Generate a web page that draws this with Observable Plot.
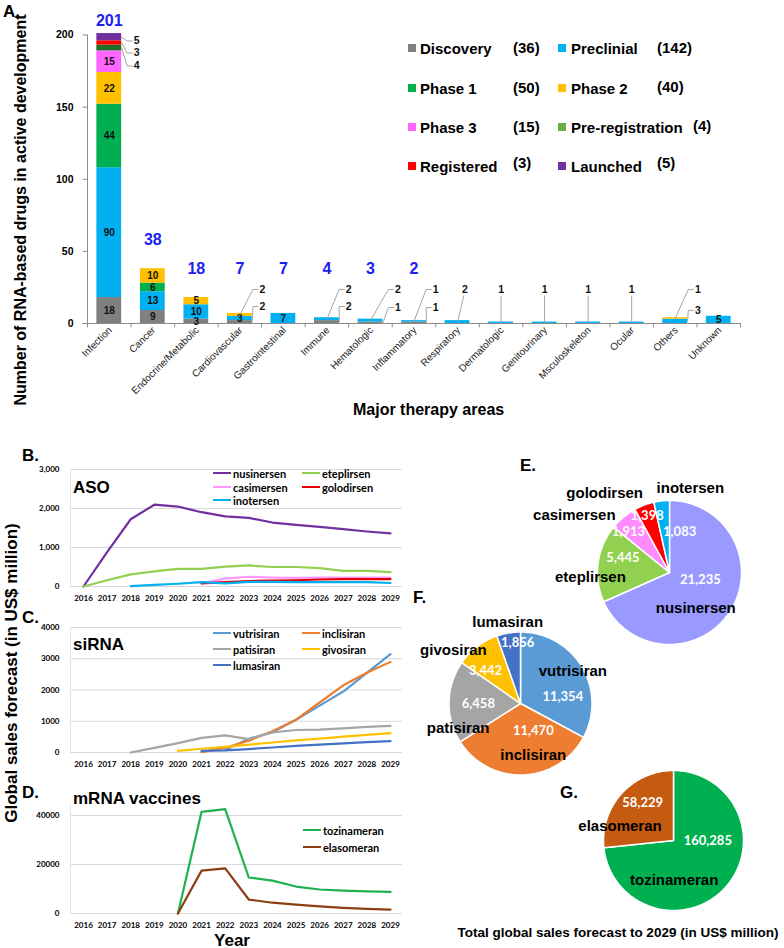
<!DOCTYPE html>
<html><head><meta charset="utf-8">
<script src="https://cdn.jsdelivr.net/npm/d3@7"></script>
<script src="https://cdn.jsdelivr.net/npm/@observablehq/plot@0.6"></script>
<style>
body{margin:0;background:#fff;}
#root{position:relative;width:784px;height:948px;overflow:hidden;font-family:"Liberation Sans",Arial,sans-serif;background:#fff;}
.abs{position:absolute;}
.lbl{position:absolute;font-weight:bold;white-space:nowrap;line-height:1;color:#000;}
g[aria-label="pie-values"] text{filter:drop-shadow(1px 1px 1px rgba(0,0,0,0.55));}
</style></head><body><div id="root"></div>
<script>
// ---------------- DATA ----------------
const categories = ["Infection","Cancer","Endocrine/Metabolic","Cardiovascular","Gastrointestinal","Immune","Hematologic","Inflammatory","Respiratory","Dermatologic","Genitourinary","Msculoskeleton","Ocular","Others","Unknown"];
const stages = ["Discovery","Preclinial","Phase 1","Phase 2","Phase 3","Pre-registration","Registered","Launched"];
const stageTotals = [36,142,50,40,15,4,3,5];
const discovery       = [18, 9, 3,2,0,2,1,1,0,0,0,0,0,0,0];
const preclinical     = [90,13,10,3,7,2,2,1,2,1,1,1,1,3,5];
const phase1          = [44, 6, 0,0,0,0,0,0,0,0,0,0,0,0,0];
const phase2          = [22,10, 5,2,0,0,0,0,0,0,0,0,0,1,0];
const phase3          = [15, 0, 0,0,0,0,0,0,0,0,0,0,0,0,0];
const preRegistration = [ 4, 0, 0,0,0,0,0,0,0,0,0,0,0,0,0];
const registered      = [ 3, 0, 0,0,0,0,0,0,0,0,0,0,0,0,0];
const launched        = [ 5, 0, 0,0,0,0,0,0,0,0,0,0,0,0,0];
const totalsShown     = [201,38,18,7,7,4,3,2,null,null,null,null,null,null,null];
const yTicksA = [0,50,100,150,200];

const years = [2016,2017,2018,2019,2020,2021,2022,2023,2024,2025,2026,2027,2028,2029];
const asoNames = ["nusinersen","eteplirsen","casimersen","golodirsen","inotersen"];
const nusinersen = [0,884,1724,2097,2050,1905,1800,1760,1640,1580,1530,1470,1410,1360];
const eteplirsen = [0,160,310,390,450,450,510,540,500,500,470,400,400,370];
const casimersen = [null,null,null,null,null,80,200,250,230,220,230,230,230,230];
const golodirsen = [null,null,null,null,null,80,110,140,150,160,180,190,190,190];
const inotersen  = [null,null,10,40,70,110,80,120,120,110,110,110,110,90];
const yTicksB = [0,1000,2000,3000];

const sirnaNames = ["vutrisiran","inclisiran","patisiran","givosiran","lumasiran"];
const vutrisiran = [null,null,null,null,null,null,80,440,650,1050,1500,1950,2550,3150];
const inclisiran = [null,null,null,null,null,10,150,380,680,1050,1600,2150,2550,2900];
const patisiran  = [null,null,0,150,300,470,550,430,640,720,730,770,820,850];
const givosiran  = [null,null,null,null,50,120,180,250,320,385,445,505,565,620];
const lumasiran  = [null,null,null,null,null,50,70,110,160,210,255,295,335,365];
const yTicksC = [0,1000,2000,3000,4000];

const mrnaNames = ["tozinameran","elasomeran"];
const tozinameran = [null,null,null,null,0,41500,42600,14700,13400,11000,9800,9300,9000,8800];
const elasomeran  = [null,null,null,null,0,17500,18400,5700,4400,3600,2900,2300,1900,1600];
const yTicksD = [0,20000,40000];

const asoTotals = [21235,5445,1913,1398,1083];
const sirnaTotals = [11354,11470,6458,3442,1856];
const mrnaTotals = [160285,58229];

// ---------------- STYLE / LAYOUT ----------------
const barColors = ["#808080","#00b0f0","#00b050","#ffc000","#ff66ff","#1e6e28","#ff0000","#7030a0"];
const legendColors = ["#808080","#00b0f0","#00b050","#ffc000","#ff66ff","#6aae45","#ff0000","#7030a0"];
const legendRaise = [0,0,0,1,0,1,3,3];
const asoLineColors = ["#7030a0","#92d050","#ff99ff","#e00000","#00b0f0"];
const asoPieColors = ["#9999ff","#92d050","#ff8cff","#ff0000","#00b0f0"];
const sirnaColors = ["#5b9bd5","#ed7d31","#a5a5a5","#ffc000","#4472c4"];
const mrnaLineColors = ["#1fb050","#8b3e12"];
const mrnaPieColors = ["#00b050","#c55a11"];

const leaderLayout = [
 {cat:"Infection", stage:"Launched", lx:1.13, ly:195.8, from:"right"},
 {cat:"Infection", stage:"Registered", lx:1.13, ly:187.5, from:"right"},
 {cat:"Infection", stage:"Pre-registration", lx:1.13, ly:178.5, from:"right"},
 {cat:"Cardiovascular", stage:"Phase 2", lx:1.02, ly:23.6, from:"center"},
 {cat:"Cardiovascular", stage:"Discovery", lx:1.02, ly:11.8, from:"right"},
 {cat:"Immune", stage:"Preclinial", lx:1.0, ly:23.6, from:"center"},
 {cat:"Immune", stage:"Discovery", lx:1.0, ly:11.8, from:"right"},
 {cat:"Hematologic", stage:"Preclinial", lx:1.13, ly:23.6, from:"center"},
 {cat:"Hematologic", stage:"Discovery", lx:1.13, ly:11.1, from:"right"},
 {cat:"Inflammatory", stage:"Preclinial", lx:1.0, ly:23.6, from:"center"},
 {cat:"Inflammatory", stage:"Discovery", lx:1.0, ly:11.1, from:"right"},
 {cat:"Respiratory", stage:"Preclinial", lx:0.67, ly:23.6, from:"drop"},
 {cat:"Dermatologic", stage:"Preclinial", lx:0.5, ly:23.6, from:"drop"},
 {cat:"Genitourinary", stage:"Preclinial", lx:0.5, ly:23.6, from:"drop"},
 {cat:"Msculoskeleton", stage:"Preclinial", lx:0.5, ly:23.6, from:"drop"},
 {cat:"Ocular", stage:"Preclinial", lx:0.5, ly:23.6, from:"drop"},
 {cat:"Others", stage:"Phase 2", lx:1.02, ly:23.6, from:"center"},
 {cat:"Others", stage:"Preclinial", lx:1.02, ly:9.0, from:"right"}
];
const pieLayoutE = [{dv:-20,rv:.44,dn:21,rn:.62},{dv:10.3,rv:.68,dn:-10.7,rn:1.1},{dv:-5.7,rv:.8,dn:-19.3,rn:1.54},{dv:-0.8,rv:.85,dn:-18.7,rn:1.42},{dv:20.3,rv:.58,dn:20.1,rn:1.21}];
const pieLayoutF = [{dv:21.3,rv:.6,dn:-0.8,rn:.86},{dv:-23.2,rv:.42,dn:-11.9,rn:.74},{dv:-2.2,rv:.59,dn:-23.1,rn:.94},{dv:-9.6,rv:.67,dn:-14.2,rn:1.2},{dv:7,rv:.85,dn:0.7,rn:1.15}];
const pieLayoutG = [{dv:-40.8,rv:.49,dn:47,rn:.57},{dv:8.3,rv:.69,dn:-27.3,rn:.79}];

// ---------------- HELPERS ----------------
const root = document.getElementById("root");
function place(node, x, y, w) {
  const d = document.createElement("div"); d.className = "abs";
  d.style.left = x + "px"; d.style.top = y + "px"; d.style.width = w + "px";
  d.appendChild(node); root.appendChild(d); return d;
}
function label(text, x, y, o = {}) {
  const d = document.createElement("div"); d.className = "lbl"; d.textContent = text;
  d.style.left = x + "px"; d.style.top = y + "px"; d.style.fontSize = (o.size || 15) + "px";
  if (o.family) d.style.fontFamily = o.family;
  if (o.color) d.style.color = o.color;
  const tx = o.anchor === "middle" ? "-50%" : o.anchor === "end" ? "-100%" : "0";
  d.style.transform = `translate(${tx},-50%)` + (o.rotate ? ` rotate(${o.rotate}deg)` : "");
  root.appendChild(d); return d;
}
function box(x, y, w, h, color) {
  const d = document.createElement("div"); d.className = "abs";
  Object.assign(d.style, {left: x + "px", top: y + "px", width: w + "px", height: h + "px", background: color});
  root.appendChild(d);
}

// ---------------- PANEL A ----------------
const stageCounts = [discovery, preclinical, phase1, phase2, phase3, preRegistration, registered, launched];
const segments = [];
categories.forEach((c, i) => {
  let acc = 0;
  stages.forEach((s, k) => {
    const v = stageCounts[k][i];
    if (v > 0) { segments.push({cat: c, i, stage: s, value: v, y1: acc, y2: acc + v}); acc += v; }
  });
});
const hw = 0.285;
const leaderKeys = new Set(leaderLayout.map(d => d.cat + "|" + d.stage));
const innerSegs = segments.filter(s => !leaderKeys.has(s.cat + "|" + s.stage));
const leaderPts = [], leaderTxt = [];
leaderLayout.forEach((d, n) => {
  const seg = segments.find(s => s.cat === d.cat && s.stage === d.stage);
  const i = seg.i, mid = (seg.y1 + seg.y2) / 2, X = i + d.lx;
  if (d.from === "drop") {
    leaderPts.push({id: n, x: i + 0.5, y: mid}, {id: n, x: i + 0.5 + (d.lx - 0.5) * 0.85, y: d.ly - 4.5});
  } else {
    leaderPts.push({id: n, x: i + 0.5 + (d.from === "right" ? hw : 0), y: mid}, {id: n, x: X - 0.22, y: d.ly}, {id: n, x: X - 0.1, y: d.ly});
  }
  leaderTxt.push({x: X, y: d.ly, text: seg.value});
});
const totalsData = categories.map((c, i) => ({i, t: totalsShown[i]})).filter(d => d.t != null)
  .map(d => ({x: d.i + 0.5, y: Math.min(Math.max(d.t + 20, 38), 210), text: String(d.t)}));
const boundaries = categories.map((c, i) => i).concat([categories.length]);

const chartA = Plot.plot({
  width: 784, height: 420, marginLeft: 87, marginRight: 44, marginTop: 34.5, marginBottom: 97,
  x: {domain: [0, categories.length], axis: null},
  y: {domain: [0, 200], ticks: yTicksA, tickSize: 0, tickPadding: 14, label: null},
  color: {domain: stages, range: barColors},
  style: {background: "transparent", overflow: "visible", fontFamily: "Liberation Sans", fontSize: "10.5px", fontWeight: "bold"},
  marks: [
    Plot.rectY(segments, {x1: d => d.i + 0.5 - hw, x2: d => d.i + 0.5 + hw, y1: "y1", y2: "y2", fill: "stage"}),
    Plot.ruleX([0], {y1: 0, y2: 200, stroke: "#8c8c8c"}),
    Plot.ruleY(yTicksA, {x1: -0.1, x2: 0, stroke: "#8c8c8c"}),
    Plot.ruleY([0], {x1: 0, x2: categories.length, stroke: "#8c8c8c"}),
    Plot.ruleX(boundaries, {y1: 0, y2: -3, stroke: "#8c8c8c"}),
    Plot.text(innerSegs, {x: d => d.i + 0.5, y: d => (d.y1 + d.y2) / 2, text: "value", fontSize: 10, fontWeight: "bold", fill: "#111"}),
    Plot.line(leaderPts, {x: "x", y: "y", z: "id", stroke: "#9a9a9a", strokeWidth: 0.9}),
    Plot.text(leaderTxt, {x: "x", y: "y", text: "text", fontSize: 10.5, fontWeight: "bold", fill: "#111"}),
    Plot.text(totalsData, {x: "x", y: "y", text: "text", fontSize: 16, fontWeight: "bold", fill: "#2020ee"}),
    Plot.text(categories, {x: (d, i) => i + 0.5, y: 0, text: d => d, rotate: -45, textAnchor: "end", dx: 1, dy: 5, fontSize: 10, fontWeight: "normal", fill: "#222"})
  ]
});
place(chartA, 0, 0, 784);

label("A.", 3, 11, {size: 17});
label("Number of RNA-based drugs in active development", 21, 210, {size: 16, anchor: "middle", rotate: -90});
label("Major therapy areas", 353, 410, {size: 16});

// legend A
const colSw = [408, 558], colTx = [420, 571], colCt = [513, 657], rowY = [48, 88, 127, 166];
stages.forEach((s, k) => {
  const c = k % 2, r = Math.floor(k / 2);
  box(colSw[c], rowY[r] - 4, 8, 8, legendColors[k]);
  const t = label(s, colTx[c], rowY[r], {size: 15});
  const end = colTx[c] + t.offsetWidth;
  label(`(${stageTotals[k]})`, Math.max(colCt[c], end + 10), rowY[r] - 1 - legendRaise[k], {size: 15});
});

// ---------------- LINE PANELS ----------------
function linePlot({names, series, colors, yTicks, yDomain, yFormat, top, height, mt, mb}) {
  const tidy = [];
  names.forEach((n, k) => years.forEach((yr, j) => { const v = series[k][j]; if (v != null) tidy.push({name: n, year: yr, value: v}); }));
  const chart = Plot.plot({
    width: 410, height, marginLeft: 70, marginRight: 8.2, marginTop: mt, marginBottom: mb,
    x: {domain: [2015.45, 2029.5], ticks: years, tickFormat: "d", tickSize: 0, tickPadding: 9, label: null},
    y: {domain: yDomain, ticks: yTicks, tickFormat: yFormat, tickSize: 0, tickPadding: 11, label: null},
    color: {domain: names, range: colors},
    style: {background: "transparent", overflow: "visible", fontFamily: "Lato", fontSize: "8px", fontWeight: "bold"},
    marks: [
      Plot.ruleY(yTicks, {stroke: "#d9d9d9"}),
      Plot.ruleX([2015.45], {stroke: "#e6e6e6"}),
      Plot.line(tidy, {x: "year", y: "value", z: "name", stroke: "name", strokeWidth: 2.2})
    ]
  });
  place(chart, 0, top, 410);
}
function lineLegend(names, colors, positions) {
  names.forEach((n, k) => {
    const [x, y] = positions[k];
    box(x, y - 1.25, 18, 2.5, colors[k]);
    label(n, x + 20, y, {size: 11, family: "Lato"});
  });
}

linePlot({names: asoNames, series: [nusinersen, eteplirsen, casimersen, golodirsen, inotersen], colors: asoLineColors,
  yTicks: yTicksB, yDomain: [0, 3000], yFormat: d3.format(","), top: 460, height: 150, mt: 9, mb: 24});
linePlot({names: sirnaNames, series: [vutrisiran, inclisiran, patisiran, givosiran, lumasiran], colors: sirnaColors,
  yTicks: yTicksC, yDomain: [0, 4000], yFormat: d => String(d), top: 615, height: 160, mt: 12, mb: 23});
linePlot({names: mrnaNames, series: [tozinameran, elasomeran], colors: mrnaLineColors,
  yTicks: yTicksD, yDomain: [0, 45000], yFormat: d => String(d), top: 795, height: 140, mt: 7.75, mb: 22});

label("B.", 22, 455, {size: 17});
label("ASO", 73, 487, {size: 17});
lineLegend(asoNames, asoLineColors, [[213, 473], [302, 473], [213, 487], [302, 487], [213, 500]]);
label("C.", 22, 617, {size: 17});
label("siRNA", 73, 644, {size: 17});
lineLegend(sirnaNames, sirnaColors, [[213, 633], [302, 633], [213, 649], [302, 649], [213, 665]]);
label("D.", 22, 792, {size: 17});
label("mRNA vaccines", 73, 798, {size: 17});
lineLegend(mrnaNames, mrnaLineColors, [[303, 830], [303, 847]]);
label("Year", 232, 940, {size: 17, anchor: "middle"});
label("Global sales forecast (in US$ million)", 11, 673, {size: 17, anchor: "middle", rotate: -90});

// ---------------- PIES ----------------
const fmt = d3.format(",");
function pie({names, values, colors, layout, cx, cy, r, size}) {
  const arcs = d3.pie().sort(null)(values);
  const pts = [];
  arcs.forEach((a, k) => {
    pts.push({name: names[k], x: 0, y: 0});
    const n = Math.max(2, Math.ceil((a.endAngle - a.startAngle) / (Math.PI / 180)));
    for (let j = 0; j <= n; j++) {
      const t = a.startAngle + (a.endAngle - a.startAngle) * j / n;
      pts.push({name: names[k], x: Math.sin(t), y: Math.cos(t)});
    }
  });
  const lab = arcs.map((a, k) => {
    const mid = (a.startAngle + a.endAngle) / 2, L = layout[k];
    const va = mid + L.dv * Math.PI / 180, na = mid + L.dn * Math.PI / 180;
    return {name: names[k], value: fmt(values[k]), vx: L.rv * Math.sin(va), vy: L.rv * Math.cos(va), nx: L.rn * Math.sin(na), ny: L.rn * Math.cos(na)};
  });
  const half = size / 2 / r;
  const chart = Plot.plot({
    width: size, height: size, margin: 0,
    x: {domain: [-half, half], axis: null}, y: {domain: [-half, half], axis: null},
    color: {domain: names, range: colors},
    style: {background: "transparent", overflow: "visible"},
    marks: [
      Plot.line(pts, {x: "x", y: "y", z: "name", fill: "name", stroke: "white", strokeWidth: 1.5, curve: "linear-closed"}),
      Plot.text(lab, {x: "vx", y: "vy", text: "value", fill: "white", fontSize: 13, fontWeight: "bold", fontFamily: "Lato", ariaLabel: "pie-values"}),
      Plot.text(lab, {x: "nx", y: "ny", text: "name", fill: "black", fontSize: 15, fontWeight: "bold", fontFamily: "Liberation Sans"})
    ]
  });
  place(chart, cx - size / 2, cy - size / 2, size);
}
pie({names: asoNames, values: asoTotals, colors: asoPieColors, layout: pieLayoutE, cx: 669, cy: 572, r: 72, size: 300});
pie({names: sirnaNames, values: sirnaTotals, colors: sirnaColors, layout: pieLayoutF, cx: 520, cy: 703, r: 71.5, size: 280});
pie({names: mrnaNames, values: mrnaTotals, colors: mrnaPieColors, layout: pieLayoutG, cx: 673, cy: 840, r: 70, size: 240});

label("E.", 520, 465, {size: 17});
label("F.", 413, 597, {size: 17});
label("G.", 560, 792, {size: 17});
label("Total global sales forecast to 2029 (in US$ million)", 618, 933, {size: 13.5, anchor: "middle"});
</script></body></html>
